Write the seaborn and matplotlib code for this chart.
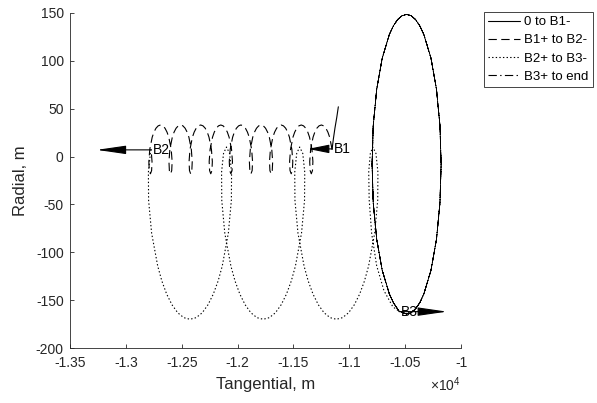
import matplotlib
matplotlib.use("Agg")
import matplotlib.pyplot as plt
import seaborn as sns
from matplotlib.ticker import FuncFormatter

sns.set_theme(style="ticks")
plt.rcParams["font.family"] = ["Liberation Sans", "DejaVu Sans"]
plt.rcParams["lines.scale_dashes"] = False
plt.rcParams["axes.unicode_minus"] = False
plt.rcParams["mathtext.fontset"] = "custom"
plt.rcParams["mathtext.rm"] = "Liberation Sans"

# ---------------- data (metres) ----------------
seg_labels = ["0 to B1-", "B1+ to B2-", "B2+ to B3-", "B3+ to end"]

# 0 to B1-
s1_x = [-11098, -11112, -11128, -11143, -11154]
s1_y = [52, 41, 30, 18, 7.5]

# B1+ to B2- (small loops drifting left)
s2_x = [-11154, -11175.8, -11191.4, -11209.5, -11229.3,
        -11250, -11270.7, -11290.5, -11308.6, -11324.2, -11346, -11354.2, -11350.5, -11340, -11329.5, -11325.8, -11334, -11355.8, -11371.4, -11389.5, -11409.3,
        -11430, -11450.7, -11470.5, -11488.6, -11504.2, -11526, -11534.2, -11530.5, -11520, -11509.5, -11505.8, -11514, -11535.8, -11551.4, -11569.5, -11589.3,
        -11610, -11630.7, -11650.5, -11668.6, -11684.2, -11706, -11714.2, -11710.5, -11700, -11689.5, -11685.8, -11694, -11715.8, -11731.4, -11749.5, -11769.3,
        -11790, -11810.7, -11830.5, -11848.6, -11864.2, -11886, -11894.2, -11890.5, -11880, -11869.5, -11865.8, -11874, -11895.8, -11911.4, -11929.5, -11949.3,
        -11970, -11990.7, -12010.5, -12028.6, -12044.2, -12066, -12074.2, -12070.5, -12060, -12049.5, -12045.8, -12054, -12075.8, -12091.4, -12109.5, -12129.3,
        -12150, -12170.7, -12190.5, -12208.6, -12224.2, -12246, -12254.2, -12250.5, -12240, -12229.5, -12225.8, -12234, -12255.8, -12271.4, -12289.5, -12309.3,
        -12330, -12350.7, -12370.5, -12388.6, -12404.2, -12426, -12434.2, -12430.5, -12420, -12409.5, -12405.8, -12414, -12435.8, -12451.4, -12469.5, -12489.3,
        -12510, -12530.7, -12550.5, -12568.6, -12584.2, -12606, -12614.2, -12610.5, -12600, -12589.5, -12585.8, -12594, -12615.8, -12631.4, -12649.5, -12669.3,
        -12690, -12710.7, -12730.5, -12748.6, -12764.2, -12786, -12794.2, -12790.5, -12780, -12769.5, -12765.8, -12774]
s2_y = [7.5, 20.25, 25.5, 29.6, 32.1,
        33, 32.1, 29.6, 25.5, 20.25, 7.5, -5.25, -14.6, -18, -14.6, -5.25, 7.5, 20.25, 25.5, 29.6, 32.1,
        33, 32.1, 29.6, 25.5, 20.25, 7.5, -5.25, -14.6, -18, -14.6, -5.25, 7.5, 20.25, 25.5, 29.6, 32.1,
        33, 32.1, 29.6, 25.5, 20.25, 7.5, -5.25, -14.6, -18, -14.6, -5.25, 7.5, 20.25, 25.5, 29.6, 32.1,
        33, 32.1, 29.6, 25.5, 20.25, 7.5, -5.25, -14.6, -18, -14.6, -5.25, 7.5, 20.25, 25.5, 29.6, 32.1,
        33, 32.1, 29.6, 25.5, 20.25, 7.5, -5.25, -14.6, -18, -14.6, -5.25, 7.5, 20.25, 25.5, 29.6, 32.1,
        33, 32.1, 29.6, 25.5, 20.25, 7.5, -5.25, -14.6, -18, -14.6, -5.25, 7.5, 20.25, 25.5, 29.6, 32.1,
        33, 32.1, 29.6, 25.5, 20.25, 7.5, -5.25, -14.6, -18, -14.6, -5.25, 7.5, 20.25, 25.5, 29.6, 32.1,
        33, 32.1, 29.6, 25.5, 20.25, 7.5, -5.25, -14.6, -18, -14.6, -5.25, 7.5, 20.25, 25.5, 29.6, 32.1,
        33, 32.1, 29.6, 25.5, 20.25, 7.5, -5.25, -14.6, -18, -14.6, -5.25, 7.5]

# B2+ to B3- (large loops drifting right)
s3_x = [-12774,
        -12780.8, -12798.3, -12796.5, -12769.4, -12714.8, -12677.8, -12635.0, -12587.3, -12535.7, -12481.5, -12426.0,
        -12370.5, -12316.3, -12264.7, -12217.0, -12174.2, -12137.2, -12082.6, -12055.5, -12053.7, -12071.2, -12099.3,
        -12125.8, -12143.3, -12141.5, -12114.4, -12059.8, -12022.8, -11980.0, -11932.3, -11880.7, -11826.5, -11771.0,
        -11715.5, -11661.3, -11609.7, -11562.0, -11519.2, -11482.2, -11427.6, -11400.5, -11398.7, -11416.2, -11444.3,
        -11470.8, -11488.3, -11486.5, -11459.4, -11404.8, -11367.8, -11325.0, -11277.3, -11225.7, -11171.5, -11116.0,
        -11060.5, -11006.3, -10954.7, -10907.0, -10864.2, -10827.2, -10772.6, -10745.5, -10743.7, -10761.2, -10789.3,
        -10812, -10826, -10822, -10800, -10755, -10690, -10610, -10555]
s3_y = [7.5,
        3.2, -16.4, -45.6, -80, -114.4, -130, -143.6, -154.8, -163.2, -168.3, -170,
        -168.3, -163.2, -154.8, -143.6, -130, -114.4, -80, -45.6, -16.4, 3.2, 10,
        3.2, -16.4, -45.6, -80, -114.4, -130, -143.6, -154.8, -163.2, -168.3, -170,
        -168.3, -163.2, -154.8, -143.6, -130, -114.4, -80, -45.6, -16.4, 3.2, 10,
        3.2, -16.4, -45.6, -80, -114.4, -130, -143.6, -154.8, -163.2, -168.3, -170,
        -168.3, -163.2, -154.8, -143.6, -130, -114.4, -80, -45.6, -16.4, 3.2, 10,
        3, -16, -45, -80, -114, -140, -157, -161.5]

# B3+ to end : one lap of the closed ellipse, flown repeatedly
lap_x = [-10555, -10487, -10446.7, -10407, -10368.7, -10332.5, -10268.5, -10219.4, -10188.5, -10178,
         -10188.5, -10219.4, -10268.5, -10332.5, -10368.7, -10407, -10446.7, -10487, -10527.3, -10567,
         -10605.3, -10641.5, -10705.5, -10754.6, -10785.5, -10796, -10785.5, -10754.6, -10705.5, -10641.5,
         -10605.3]
lap_y = [-161.5, -164.5, -163.2, -159.2, -152.6, -143.5, -118.7, -86.3, -48.5, -8,
         32.5, 70.3, 102.7, 127.5, 136.6, 143.2, 147.2, 148.5, 147.2, 143.2,
         136.6, 127.5, 102.7, 70.3, 32.5, -8, -48.5, -86.3, -118.7, -143.5,
         -152.6]
n_laps = 5
s4_x = lap_x * n_laps + lap_x[:1]
s4_y = lap_y * n_laps + lap_y[:1]

# burns (tail point and arrow tip)
burn_labels = ["B1", "B2", "B3"]
burn_x = [-11154, -12774, -10555]
burn_y = [8, 7, -162]
burn_tip_x = [-11370, -13261, -10125]
burn_head = [13, 18, 18]

xticks = [-13500, -13000, -12500, -12000, -11500, -11000, -10500, -10000]
yticks = [-200, -150, -100, -50, 0, 50, 100, 150]

# ---------------- figure ----------------
W, H = 597, 403
fig = plt.figure(figsize=(W / 100, H / 100), dpi=100)
ax = fig.add_axes([70 / W, 55 / H, 391 / W, 335 / H])

styles = ["-", (0, (6, 3.2)), (0, (1, 1.6)), (0, (6, 2.4, 1, 2.4))]
widths = [0.8, 0.8, 0.8, 0.55]
segs = [(s1_x, s1_y), (s2_x, s2_y), (s3_x, s3_y), (s4_x, s4_y)]
for (sx, sy), ls, lw in zip(segs, styles, widths):
    sns.lineplot(x=sx, y=sy, sort=False, estimator=None, ax=ax,
                 color="black", lw=lw, linestyle=ls)

gray = "#262626"
ax.set_xlim(-13500, -10000)
ax.set_ylim(-200, 150)
ax.set_xticks(xticks)
ax.set_yticks(yticks)
ax.xaxis.set_major_formatter(FuncFormatter(lambda v, p: f"{v / 1e4:g}"))
for s in ["top", "right"]:
    ax.spines[s].set_visible(False)
for s in ["left", "bottom"]:
    ax.spines[s].set_color(gray)
    ax.spines[s].set_linewidth(0.6)
ax.tick_params(direction="in", length=3.2, width=0.6, colors=gray, labelsize=10)
ax.tick_params(axis="x", pad=6)
ax.tick_params(axis="y", pad=4.5)

ax.set_xlabel("Tangential, m", fontsize=12, color=gray)
ax.set_ylabel("Radial, m", fontsize=12, color=gray)
ax.xaxis.set_label_coords(0.5, -0.088)
ax.yaxis.set_label_coords(-0.108, 0.5)

ax.text(1.0, -0.128, r"$\mathregular{\times10^{4}}$", transform=ax.transAxes,
        ha="right", va="baseline", fontsize=10, color=gray)

# burn arrows and labels
for lab, bx, by, tx, hl in zip(burn_labels, burn_x, burn_y, burn_tip_x, burn_head):
    ax.annotate("", xy=(tx, by), xytext=(bx, by),
                arrowprops=dict(arrowstyle=f"-|>,head_length={hl},head_width=2.6",
                                mutation_scale=1, lw=0.8, color="black",
                                shrinkA=0, shrinkB=0), zorder=5)
    ax.annotate(lab, xy=(bx, by), xytext=(1.5, 0), textcoords="offset points",
                ha="left", va="center", fontsize=10, color="black", zorder=6)

handles = ax.get_lines()[:4]
leg = fig.legend(handles, seg_labels, loc="upper left",
                 bbox_to_anchor=(484 / W, 1 - 12 / H), bbox_transform=fig.transFigure,
                 frameon=True, fancybox=False, edgecolor=gray, framealpha=1,
                 fontsize=9.5, handlelength=2.4, handletextpad=0.35,
                 borderpad=0.3, labelspacing=0.45, borderaxespad=0)
leg.get_frame().set_linewidth(0.6)
leg.get_lines()[3].set_linewidth(0.8)
for t in leg.get_texts():
    t.set_color("black")

fig.savefig("out.png", dpi=100)
